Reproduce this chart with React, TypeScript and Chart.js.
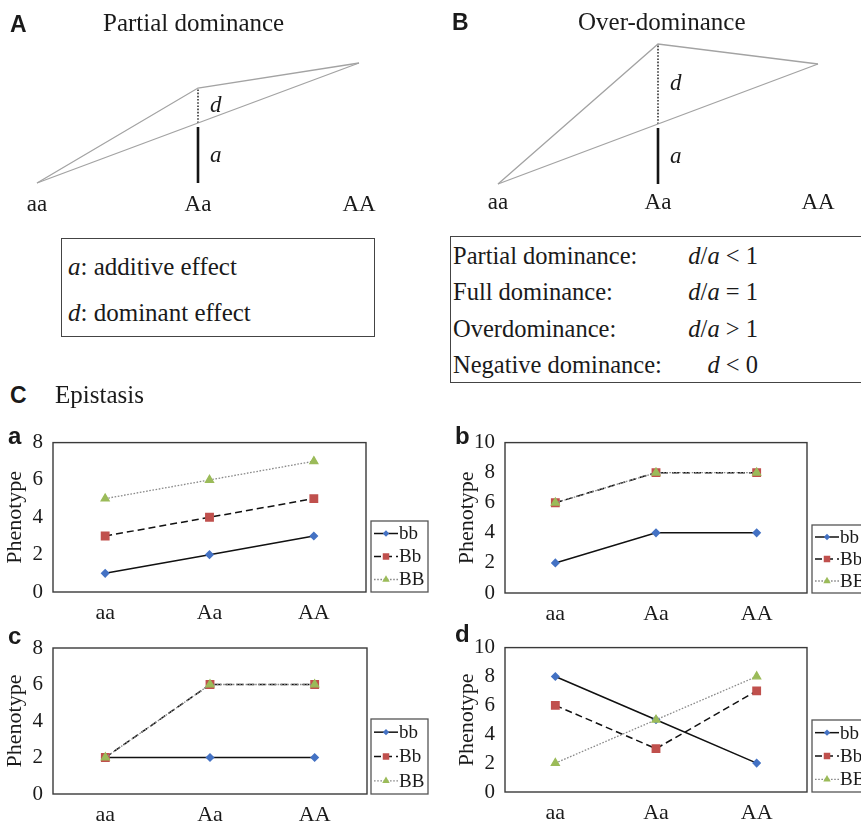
import React, { useEffect, useRef } from 'react';
import { Chart, registerables } from 'chart.js';

Chart.register(...registerables);

// ---------------- data ----------------
const GENOTYPES = ['aa', 'Aa', 'AA'];
const B_LOCUS = ['bb', 'Bb', 'BB'];

// genotypic values of aa, Aa, AA (panels A and B)
const PARTIAL_DOMINANCE_VALUES = [0, 9.5, 12];
const OVER_DOMINANCE_VALUES = [0, 14, 12];
const EFFECT_Y_MAX = 14;

// epistasis panels: phenotype at aa, Aa, AA for each B-locus genotype
const EPI_A_bb = [1, 2, 3];
const EPI_A_Bb = [3, 4, 5];
const EPI_A_BB = [5, 6, 7];
const EPI_B_bb = [2, 4, 4];
const EPI_B_Bb = [6, 8, 8];
const EPI_B_BB = [6, 8, 8];
const EPI_C_bb = [2, 2, 2];
const EPI_C_Bb = [2, 6, 6];
const EPI_C_BB = [2, 6, 6];
const EPI_D_bb = [8, 5, 2];
const EPI_D_Bb = [6, 3, 7];
const EPI_D_BB = [2, 5, 8];
const Y_MAX_8 = 8;
const Y_MAX_10 = 10;
const Y_STEP = 2;

// ---------------- styles ----------------
const SERIF = '"Liberation Serif", "Times New Roman", serif';
const SANS = '"Liberation Sans", Arial, sans-serif';
const INK = '#1a1a1a';

const SERIES_STYLE = [
  { borderColor: '#111111', borderWidth: 1.5, borderDash: [], pointStyle: 'rectRot', pointRadius: 3.5, pointBackgroundColor: '#4472C4', pointBorderColor: '#4472C4', order: 2 },
  { borderColor: '#111111', borderWidth: 1.5, borderDash: [7, 4], pointStyle: 'rect', pointRadius: 5.2, pointBackgroundColor: '#C0504D', pointBorderColor: '#C0504D', order: 1 },
  { borderColor: '#8a8a8a', borderWidth: 1.3, borderDash: [1.6, 1.6], pointStyle: 'triangle', pointRadius: 4.6, pointBackgroundColor: '#9BBB59', pointBorderColor: '#9BBB59', order: 0 },
];

// ---------------- plugins ----------------
function drawMarker(ctx: CanvasRenderingContext2D, style: string, x: number, y: number, r: number, fill: string) {
  ctx.beginPath();
  if (style === 'rectRot') {
    ctx.moveTo(x, y - r); ctx.lineTo(x + r, y); ctx.lineTo(x, y + r); ctx.lineTo(x - r, y); ctx.closePath();
  } else if (style === 'rect') {
    const s = r * Math.SQRT1_2;
    ctx.rect(x - s, y - s, 2 * s, 2 * s);
  } else {
    ctx.moveTo(x, y - r);
    ctx.lineTo(x + 0.866 * r, y + 0.5 * r);
    ctx.lineTo(x - 0.866 * r, y + 0.5 * r);
    ctx.closePath();
  }
  ctx.fillStyle = fill;
  ctx.fill();
}

const plotFrame = {
  id: 'plotFrame',
  beforeDatasetsDraw(chart: any) {
    const { ctx, chartArea } = chart;
    ctx.save();
    ctx.strokeStyle = '#3a3a3a';
    ctx.lineWidth = 1.4;
    ctx.strokeRect(chartArea.left, chartArea.top, chartArea.right - chartArea.left, chartArea.bottom - chartArea.top);
    ctx.restore();
  },
};

function makeBoxLegend(gap: number, width: number, height: number) {
  return {
    id: 'boxLegend',
    afterDraw(chart: any) {
      const { ctx, chartArea } = chart;
      const left = chartArea.right + gap;
      const top = chartArea.bottom - height;
      ctx.save();
      ctx.fillStyle = '#ffffff';
      ctx.fillRect(left, top, width, height);
      ctx.strokeStyle = '#555555';
      ctx.lineWidth = 1.3;
      ctx.strokeRect(left, top, width, height);
      const n = chart.data.datasets.length;
      const rowGap = (height - 2) / n;
      chart.data.datasets.forEach((ds: any, i: number) => {
        const y = top + 1 + rowGap * (i + 0.5);
        ctx.beginPath();
        ctx.setLineDash(ds.borderDash || []);
        ctx.strokeStyle = ds.borderColor;
        ctx.lineWidth = ds.borderWidth;
        ctx.moveTo(left + 3, y);
        ctx.lineTo(left + 27, y);
        ctx.stroke();
        ctx.setLineDash([]);
        drawMarker(ctx, ds.pointStyle, left + 15, y, ds.pointStyle === 'rect' ? 4.6 : ds.pointRadius - 0.3, ds.pointBackgroundColor);
        ctx.fillStyle = INK;
        ctx.font = `19px ${SERIF}`;
        ctx.textBaseline = 'middle';
        ctx.textAlign = 'left';
        ctx.fillText(ds.label, left + 28, y + 1);
      });
      ctx.restore();
    },
  };
}

function makeEffectLabels(items: { text: string; x: number; y: number }[], dx: number) {
  return {
    id: 'effectLabels',
    afterDatasetsDraw(chart: any) {
      const { ctx, scales } = chart;
      ctx.save();
      ctx.fillStyle = INK;
      ctx.font = `italic 23px ${SERIF}`;
      ctx.textBaseline = 'middle';
      ctx.textAlign = 'left';
      items.forEach((it) => {
        ctx.fillText(it.text, scales.x.getPixelForValue(it.x) + dx, scales.y.getPixelForValue(it.y));
      });
      ctx.restore();
    },
  };
}

// ---------------- configs ----------------
type Rect = { left: number; top: number; width: number; height: number };
type Plot = { left: number; top: number; right: number; bottom: number };

const EFFECT_X_AXIS_H = 36;

function effectConfig(values: number[], canvas: Rect, plot: Plot, labelPad: number) {
  const [aa, Aa, AA] = values;
  const mid = (aa + AA) / 2;
  const aGap = 0.4; // visual gap between additive bar and additive line
  const grey = '#a3a3a3';
  return {
    type: 'scatter',
    data: {
      datasets: [
        { label: 'genotypic values', data: [{ x: 0, y: aa }, { x: 1, y: Aa }, { x: 2, y: AA }], showLine: true, borderColor: grey, borderWidth: 1.3, pointRadius: 0, clip: false },
        { label: 'additive line', data: [{ x: 0, y: aa }, { x: 2, y: AA }], showLine: true, borderColor: grey, borderWidth: 1.3, pointRadius: 0, clip: false },
        { label: 'd', data: [{ x: 1, y: mid }, { x: 1, y: Aa }], showLine: true, borderColor: '#333333', borderWidth: 1.6, borderDash: [1.6, 1.6], pointRadius: 0, clip: false },
        { label: 'a', data: [{ x: 1, y: aa }, { x: 1, y: mid - aGap }], showLine: true, borderColor: '#151515', borderWidth: 2.6, pointRadius: 0, clip: false },
      ],
    },
    options: {
      responsive: false,
      animation: false,
      devicePixelRatio: 1,
      events: [],
      layout: {
        padding: {
          left: plot.left - canvas.left,
          top: plot.top - canvas.top,
          right: canvas.left + canvas.width - plot.right,
          bottom: canvas.top + canvas.height - plot.bottom - EFFECT_X_AXIS_H,
        },
      },
      plugins: { legend: { display: false }, tooltip: { enabled: false } },
      scales: {
        x: {
          type: 'linear', min: 0, max: 2,
          grid: { display: false, drawTicks: false }, border: { display: false },
          ticks: { stepSize: 1, padding: labelPad, color: INK, font: { family: SERIF, size: 23 }, callback: (v: number) => GENOTYPES[v] ?? '' },
          afterFit: (s: any) => { s.height = EFFECT_X_AXIS_H; },
        },
        y: { type: 'linear', min: 0, max: EFFECT_Y_MAX, display: false },
      },
    },
    plugins: [makeEffectLabels([
      { text: 'd', x: 1, y: (mid + Aa) / 2 },
      { text: 'a', x: 1, y: (aa + mid) / 2 - 0.3 },
    ], 12)],
  };
}

const EPI_X_AXIS_H = 28;

function epiConfig(series: number[][], yMax: number, canvas: Rect, plot: Plot, titlePad: number, legend: { gap: number; width: number; height: number }) {
  return {
    type: 'line',
    data: {
      labels: GENOTYPES,
      datasets: B_LOCUS.map((name, i) => ({ label: name, data: series[i], ...SERIES_STYLE[i] })),
    },
    options: {
      responsive: false,
      animation: false,
      devicePixelRatio: 1,
      events: [],
      layout: {
        padding: {
          left: 0,
          top: plot.top - canvas.top,
          right: canvas.left + canvas.width - plot.right,
          bottom: canvas.top + canvas.height - plot.bottom - EPI_X_AXIS_H,
        },
      },
      plugins: { legend: { display: false }, tooltip: { enabled: false } },
      scales: {
        x: {
          type: 'category', offset: true,
          grid: { display: false, drawTicks: false }, border: { display: false },
          ticks: { padding: 8, color: INK, font: { family: SERIF, size: 22 } },
          afterFit: (s: any) => { s.height = EPI_X_AXIS_H; },
        },
        y: {
          type: 'linear', min: 0, max: yMax,
          grid: { display: false, drawTicks: false }, border: { display: false },
          ticks: { stepSize: Y_STEP, padding: 10, color: INK, font: { family: SERIF, size: 21 } },
          title: { display: true, text: 'Phenotype', color: INK, font: { family: SERIF, size: 22 }, padding: { top: titlePad, bottom: 0 } },
          afterFit: (s: any) => { s.width = plot.left - canvas.left; },
        },
      },
    },
    plugins: [plotFrame, makeBoxLegend(legend.gap, legend.width, legend.height)],
  };
}

// ---------------- components ----------------
function ChartBox({ rect, make }: { rect: Rect; make: () => any }) {
  const ref = useRef<HTMLCanvasElement>(null);
  useEffect(() => {
    const chart = new Chart(ref.current as HTMLCanvasElement, make());
    return () => chart.destroy();
  }, []);
  return (
    <canvas
      ref={ref}
      width={rect.width}
      height={rect.height}
      style={{ position: 'absolute', left: rect.left, top: rect.top, width: rect.width, height: rect.height }}
    />
  );
}

function T(props: { x: number; b: number; size: number; sans?: boolean; bold?: boolean; italic?: boolean; right?: boolean; children: React.ReactNode }) {
  const { x, b, size, sans, bold, italic, right, children } = props;
  const asc = sans ? 0.8465 : 0.8375;
  const style: React.CSSProperties = {
    position: 'absolute',
    top: b - asc * size,
    fontSize: size,
    lineHeight: `${size}px`,
    fontFamily: sans ? SANS : SERIF,
    fontWeight: bold ? 700 : 400,
    fontStyle: italic ? 'italic' : 'normal',
    whiteSpace: 'nowrap',
    color: INK,
  };
  if (right) style.right = 861 - x;
  else style.left = x;
  return <div style={style}>{children}</div>;
}

const I = ({ children }: { children: React.ReactNode }) => <span style={{ fontStyle: 'italic' }}>{children}</span>;

export default function App() {
  const rA = { left: 0, top: 20, width: 430, height: 205 };
  const rB = { left: 430, top: 20, width: 431, height: 205 };
  const ra = { left: 0, top: 420, width: 440, height: 205 };
  const rb = { left: 440, top: 420, width: 421, height: 205 };
  const rc = { left: 0, top: 625, width: 440, height: 200 };
  const rd = { left: 440, top: 625, width: 421, height: 200 };

  return (
    <div style={{ position: 'absolute', left: 0, top: 0, width: 861, height: 825, background: '#ffffff', overflow: 'hidden' }}>
      <ChartBox rect={rA} make={() => effectConfig(PARTIAL_DOMINANCE_VALUES, rA, { left: 37, top: 43, right: 359, bottom: 183 }, 8)} />
      <ChartBox rect={rB} make={() => effectConfig(OVER_DOMINANCE_VALUES, rB, { left: 498, top: 44, right: 818, bottom: 184 }, 5)} />
      <ChartBox rect={ra} make={() => epiConfig([EPI_A_bb, EPI_A_Bb, EPI_A_BB], Y_MAX_8, ra, { left: 53, top: 440, right: 366, bottom: 592 }, 2, { gap: 5, width: 57, height: 71 })} />
      <ChartBox rect={rb} make={() => epiConfig([EPI_B_bb, EPI_B_Bb, EPI_B_BB], Y_MAX_10, rb, { left: 505, top: 439, right: 807, bottom: 593 }, 14, { gap: 5, width: 70, height: 68 })} />
      <ChartBox rect={rc} make={() => epiConfig([EPI_C_bb, EPI_C_Bb, EPI_C_BB], Y_MAX_8, rc, { left: 53, top: 648, right: 367, bottom: 794 }, 2, { gap: 4, width: 57, height: 75 })} />
      <ChartBox rect={rd} make={() => epiConfig([EPI_D_bb, EPI_D_Bb, EPI_D_BB], Y_MAX_10, rd, { left: 505, top: 643, right: 807, bottom: 792 }, 14, { gap: 5, width: 70, height: 72 })} />

      <T x={10} b={32} size={23} sans bold>A</T>
      <T x={103} b={31} size={25}>Partial dominance</T>
      <T x={452} b={30} size={23} sans bold>B</T>
      <T x={578} b={30} size={25}>Over-dominance</T>

      <div style={{ position: 'absolute', left: 61, top: 238, width: 314, height: 99, border: '1.5px solid #444', boxSizing: 'border-box' }} />
      <T x={68} b={275} size={25}><I>a</I>: additive effect</T>
      <T x={68} b={321} size={25}><I>d</I>: dominant effect</T>

      <div style={{ position: 'absolute', left: 450, top: 236, width: 440, height: 147, border: '1.5px solid #444', boxSizing: 'border-box' }} />
      <T x={453} b={265} size={24.5}>Partial dominance:</T>
      <T x={758} b={265} size={24.5} right><I>d</I>/<I>a</I> &lt; 1</T>
      <T x={453} b={301} size={24.5}>Full dominance:</T>
      <T x={758} b={301} size={24.5} right><I>d</I>/<I>a</I> = 1</T>
      <T x={453} b={338} size={24.5}>Overdominance:</T>
      <T x={758} b={338} size={24.5} right><I>d</I>/<I>a</I> &gt; 1</T>
      <T x={453} b={374} size={24.5}>Negative dominance:</T>
      <T x={758} b={374} size={24.5} right><I>d</I> &lt; 0</T>

      <T x={10} b={403} size={23} sans bold>C</T>
      <T x={55} b={403} size={25}>Epistasis</T>

      <T x={8} b={444} size={24} sans bold>a</T>
      <T x={455} b={444} size={24} sans bold>b</T>
      <T x={8} b={644} size={24} sans bold>c</T>
      <T x={455} b={642} size={24} sans bold>d</T>
    </div>
  );
}
